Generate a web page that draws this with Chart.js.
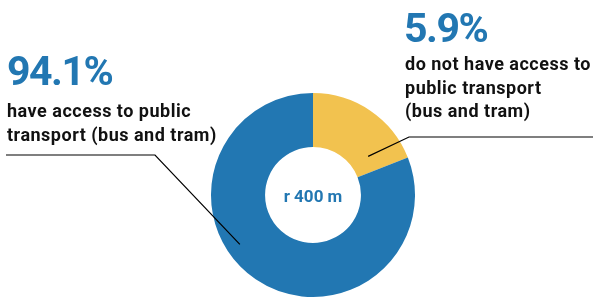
<!DOCTYPE html>
<html>
<head>
<meta charset="utf-8">
<script src="https://cdn.jsdelivr.net/npm/chart.js@4/dist/chart.umd.min.js"></script>
<style>
  html, body { margin: 0; padding: 0; background: #fff; }
  #wrap { position: relative; width: 593px; height: 300px; }
</style>
</head>
<body>
<div id="wrap"><canvas id="c" width="593" height="300"></canvas></div>
<script>
// ---- data ----
const segments    = ['no access', 'access'];
const sliceShares = [19, 81];            // share as drawn in the picture
const pctLabels   = ['5.9%', '94.1%'];
const accessText  = ['have access to public', 'transport (bus and tram)'];
const noAccessText = ['do not have access to', 'public transport', '(bus and tram)'];
const centerText  = 'r 400 m';

const BLUE = '#2277b2';
const YELLOW = '#f2c24f';
const INK = '#111111';

const labelsPlugin = {
  id: 'labels',
  afterDraw(chart) {
    const ctx = chart.ctx;
    const arc = chart.getDatasetMeta(0).data[0];
    const cx = arc.x, cy = arc.y, R = arc.outerRadius;
    const at = (deg, f) => {
      const a = (deg - 90) * Math.PI / 180;
      return [cx + Math.cos(a) * R * f, cy + Math.sin(a) * R * f];
    };
    ctx.save();
    // big percentages
    ctx.fillStyle = BLUE;
    ctx.font = 'bold 41px Roboto';
    ctx.letterSpacing = '-1.5px';
    ctx.textBaseline = 'alphabetic';
    ctx.fillText(pctLabels[1], 7, 85);
    ctx.fillText(pctLabels[0], 404, 42);
    // descriptions
    ctx.fillStyle = INK;
    ctx.font = 'bold 18px Roboto';
    ctx.letterSpacing = '0.5px';
    accessText.forEach((t, i) => ctx.fillText(t, 7, 117 + i * 24));
    noAccessText.forEach((t, i) => ctx.fillText(t, 405, 70 + i * 23.5));
    // center label
    ctx.fillStyle = BLUE;
    ctx.font = 'bold 17px Roboto';
    ctx.letterSpacing = '0px';
    ctx.textAlign = 'center';
    ctx.textBaseline = 'middle';
    ctx.fillText(centerText, cx, cy + 3);
    // leader lines
    ctx.strokeStyle = '#000';
    ctx.lineWidth = 1.2;
    let p = at(236, 0.865);
    ctx.beginPath();
    ctx.moveTo(6, 155);
    ctx.lineTo(155, 155);
    ctx.lineTo(p[0], p[1]);
    ctx.stroke();
    p = at(55, 0.66);
    ctx.beginPath();
    ctx.moveTo(p[0], p[1]);
    ctx.lineTo(409, 137);
    ctx.lineTo(593, 137);
    ctx.stroke();
    ctx.restore();
  }
};

new Chart(document.getElementById('c'), {
  type: 'doughnut',
  data: {
    labels: segments,
    datasets: [{
      data: sliceShares,
      backgroundColor: [YELLOW, BLUE],
      borderWidth: 0,
    }],
  },
  options: {
    responsive: false,
    animation: false,
    cutout: '47%',
    layout: { padding: { left: 211, right: 178, top: 93, bottom: 3 } },
    plugins: { legend: { display: false }, tooltip: { enabled: false } },
  },
  plugins: [labelsPlugin],
});
</script>
</body>
</html>
